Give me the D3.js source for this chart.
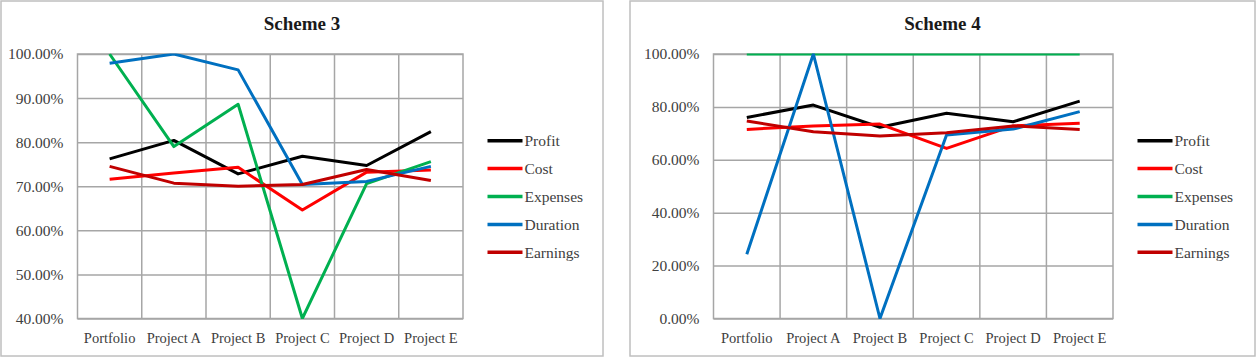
<!DOCTYPE html>
<html lang="en">
<head>
    <meta charset="UTF-8">
    <script src="https://d3js.org/d3.v7.min.js"></script>
    <title>Scheme 3 / Scheme 4</title>
    <style>
        body{
            margin: 0;
            background-color: #ffffff;
        }
        text{
            font-family: "Liberation Serif", "DejaVu Serif", serif;
        }
    </style>
</head>
<body>
    <div id="charts"></div>
<script>
// categories and series names
const categories = ["Portfolio", "Project A", "Project B", "Project C", "Project D", "Project E"];
const seriesNames = ["Profit", "Cost", "Expenses", "Duration", "Earnings"];
const seriesColors = ["#000000", "#ff0000", "#00b050", "#0070c0", "#c00000"];

// Scheme 3 values (percent)
const profit3   = [76.2, 80.4, 72.8, 76.8, 74.7, 82.4];
const cost3     = [71.6, 73.0, 74.3, 64.6, 73.2, 73.7];
const expenses3 = [100, 79.0, 88.6, 40.0, 70.6, 75.6];
const duration3 = [97.9, 100, 96.4, 70.4, 71.1, 74.5];
const earnings3 = [74.5, 70.7, 70.0, 70.4, 73.8, 71.3];
const ticks3    = [40, 50, 60, 70, 80, 90, 100];

// Scheme 4 values (percent)
const profit4   = [76.0, 80.7, 72.3, 77.6, 74.4, 82.2];
const cost4     = [71.5, 72.8, 73.5, 64.3, 72.8, 73.8];
const expenses4 = [100, 100, 100, 100, 100, 100];
const duration4 = [24.3, 100, 0, 69.4, 71.6, 78.2];
const earnings4 = [74.7, 70.6, 69.0, 70.2, 72.8, 71.5];
const ticks4    = [0, 20, 40, 60, 80, 100];

const svg = d3.select("#charts").append("svg").attr("width", 1260).attr("height", 363);

function drawChart(cfg) {
    // outer panel
    svg.append("rect")
        .attr("x", cfg.panel[0]).attr("y", cfg.panel[1])
        .attr("width", cfg.panel[2]).attr("height", cfg.panel[3])
        .attr("fill", "#fff").attr("stroke", "#bfbfbf").attr("stroke-width", 1.5);

    svg.append("text")
        .attr("x", cfg.panel[0] + cfg.panel[2] / 2).attr("y", 30)
        .attr("text-anchor", "middle")
        .attr("font-size", 19).attr("font-weight", "bold")
        .attr("fill", "#1a1a1a")
        .text(cfg.title);

    const width = cfg.plot.right - cfg.plot.left;
    const height = cfg.plot.bottom - cfg.plot.top;
    const chart = svg.append("g").attr("transform", `translate(${cfg.plot.left},${cfg.plot.top})`);

    // lines are cut at the plot edges, like the original
    chart.append("clipPath").attr("id", cfg.id)
        .append("rect").attr("x", -2).attr("y", -0.5).attr("width", width + 4).attr("height", height + 1);

    const xScale = d3.scaleBand().domain(categories).range([0, width]);
    const yScale = d3.scaleLinear().domain(d3.extent(cfg.ticks)).range([height, 0]);

    // horizontal grid + y labels
    const yAxis = chart.append("g")
        .call(d3.axisLeft(yScale).tickValues(cfg.ticks).tickSize(-width).tickPadding(14)
              .tickFormat(d => d.toFixed(2) + "%"));
    yAxis.select(".domain").remove();
    yAxis.selectAll("line").attr("stroke", "#a6a6a6").attr("stroke-width", 1.5);
    yAxis.selectAll("text").attr("font-size", 15.5).attr("fill", "#404040")
        .attr("font-family", "Liberation Serif, serif");

    // vertical grid at category boundaries
    chart.append("g").selectAll("line")
        .data(categories.slice(1))
        .join("line")
        .attr("x1", d => xScale(d)).attr("x2", d => xScale(d))
        .attr("y1", 0).attr("y2", height)
        .attr("stroke", "#a6a6a6").attr("stroke-width", 1.5);

    chart.append("rect").attr("width", width).attr("height", height)
        .attr("fill", "none").attr("stroke", "#a6a6a6").attr("stroke-width", 1.5);

    // x labels
    const xAxis = chart.append("g").attr("transform", `translate(0,${height})`)
        .call(d3.axisBottom(xScale).tickSize(0).tickPadding(14));
    xAxis.select(".domain").remove();
    xAxis.selectAll("text").attr("font-size", 14.5).attr("fill", "#404040")
        .attr("font-family", "Liberation Serif, serif");

    const line = d3.line()
        .x((d, i) => xScale(categories[i]) + xScale.bandwidth() / 2)
        .y(d => yScale(d));

    const lines = chart.append("g").attr("clip-path", `url(#${cfg.id})`);
    cfg.series.forEach((values, i) => {
        lines.append("path").datum(values)
            .attr("fill", "none")
            .attr("stroke", seriesColors[i])
            .attr("stroke-width", 3)
            .attr("stroke-linejoin", "round")
            .attr("d", line);
    });

    // legend
    const legend = svg.append("g").attr("transform", `translate(${cfg.legend[0]},${cfg.legend[1]})`);
    seriesNames.forEach((name, i) => {
        const row = legend.append("g").attr("transform", `translate(0,${i * 27.9})`);
        row.append("line").attr("x1", 0).attr("x2", 35).attr("y1", 0).attr("y2", 0)
            .attr("stroke", seriesColors[i]).attr("stroke-width", 3.5);
        row.append("text").attr("x", 37).attr("y", 0).attr("dy", "0.35em")
            .attr("font-size", 15.5).attr("fill", "#404040")
            .text(name);
    });
}

drawChart({
    id: "clip3",
    title: "Scheme 3",
    panel: [1, 1, 602, 355],
    plot: { left: 77.5, right: 463, top: 54, bottom: 318.5 },
    ticks: ticks3,
    series: [profit3, cost3, expenses3, duration3, earnings3],
    legend: [487.5, 140.7]
});

drawChart({
    id: "clip4",
    title: "Scheme 4",
    panel: [630, 1, 625, 355],
    plot: { left: 713.5, right: 1113, top: 54, bottom: 318.5 },
    ticks: ticks4,
    series: [profit4, cost4, expenses4, duration4, earnings4],
    legend: [1137.5, 140.7]
});
</script>
</body>
</html>
